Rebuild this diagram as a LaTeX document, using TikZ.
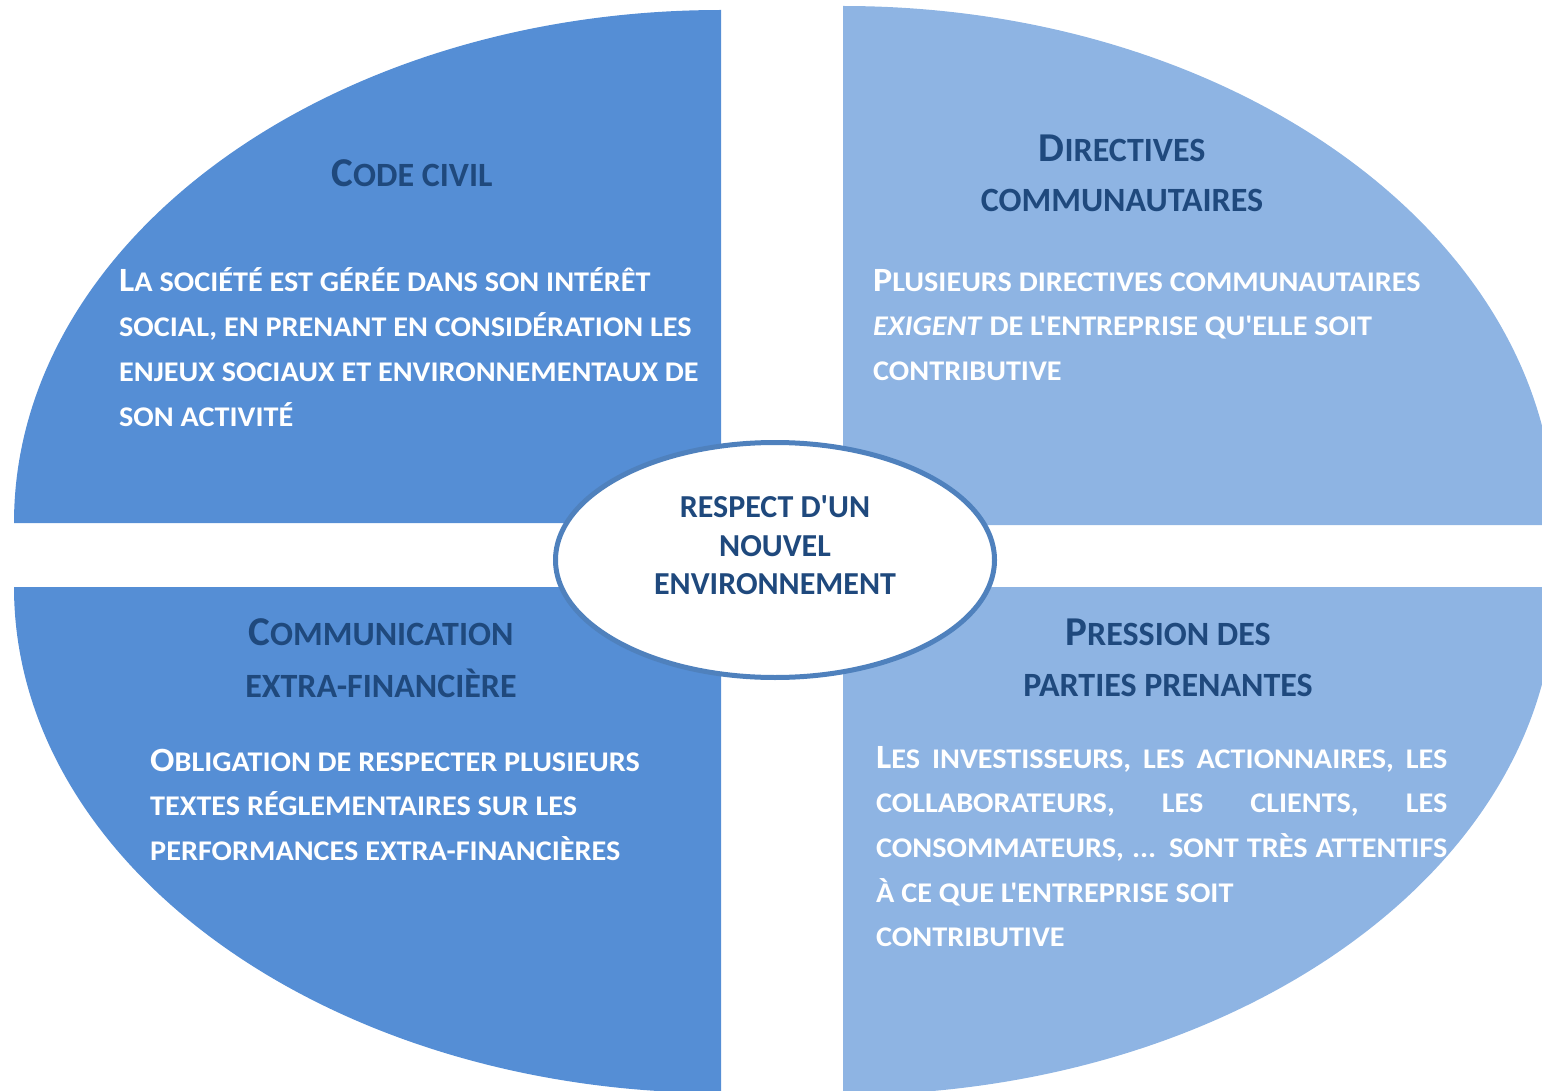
\documentclass[tikz,border=0pt]{standalone}
\usepackage{fontspec}
\setmainfont{Carlito}[Ligatures=TeXOff]
\newfontfamily\bodyfam{Carlito}[Ligatures=TeXOff, FakeStretch=1.06]
\usetikzlibrary{shapes.geometric}
\definecolor{cLeft}{HTML}{558ED5}
\definecolor{cRight}{HTML}{8EB4E3}
\definecolor{cTitle}{HTML}{1F497D}
\definecolor{cRing}{HTML}{4F81BD}
\newcommand\bodyfont{\bodyfam\fontsize{28.5}{34}\selectfont\bfseries}
\newcommand\titlefont{\fontsize{34}{40}\selectfont\bfseries}
\newcommand\centerfont{\fontsize{32}{38}\selectfont\bfseries}
\newcommand\Ini[1]{{\fontsize{34}{34}\selectfont #1}}
\newcommand\TIni[1]{{\fontsize{41}{41}\selectfont #1}}
\tikzset{
  quadL/.style={fill=cLeft},
  quadR/.style={fill=cRight},
  ttl/.style={text=cTitle, font=\titlefont, anchor=base, inner sep=0pt},
  bod/.style={text=white, font=\bodyfont, anchor=base west, inner sep=0pt},
  ctr/.style={text=cTitle, font=\centerfont, anchor=base, inner sep=0pt},
  hub/.style={ellipse, draw=cRing, line width=5pt, fill=white,
    minimum width=439pt, minimum height=235pt, inner sep=0pt}
}
\begin{document}
\begin{tikzpicture}[x=1pt,y=-1pt]
\useasboundingbox (0,0) rectangle (1542,1091);
\clip (0,0) rectangle (1542,1091);
% quadrants
\fill[quadL] (721,523) -- (14,523) arc[start angle=180,end angle=270,x radius=707,y radius=513] -- cycle;
\fill[quadR] (843,525) -- (843,6) arc[start angle=270,end angle=360,x radius=712,y radius=519] -- cycle;
\fill[quadL] (721,587) -- (14,587) arc[start angle=180,end angle=90,x radius=707,y radius=506] -- cycle;
\fill[quadR] (843,587) -- (1555,587) arc[start angle=0,end angle=90,x radius=712,y radius=508] -- cycle;
% center
\node[hub] (hub) at (775,560) {};
\node[ctr] (c1) at (775,517) {RESPECT D'UN};
\node[ctr] (c2) at (775,556) {NOUVEL};
\node[ctr] (c3) at (775,594) {ENVIRONNEMENT};
% top left
\node[ttl] (t1) at (412,187) {\TIni{C}ODE CIVIL};
\node[bod] (b11) at (119,291) {\Ini{L}A SOCIÉTÉ EST GÉRÉE DANS SON INTÉRÊT};
\node[bod] (b12) at (119,336) {SOCIAL, EN PRENANT EN CONSIDÉRATION LES};
\node[bod] (b13) at (119,381) {ENJEUX SOCIAUX ET ENVIRONNEMENTAUX DE};
\node[bod] (b14) at (119,426) {SON ACTIVITÉ};
% top right
\node[ttl] (t2a) at (1122,162) {\TIni{D}IRECTIVES};
\node[ttl] (t2b) at (1122,212) {COMMUNAUTAIRES};
\node[bod] (b21) at (873,291) {\Ini{P}LUSIEURS DIRECTIVES COMMUNAUTAIRES};
\node[bod] (b22) at (873,335) {\textit{EXIGENT} DE L'ENTREPRISE QU'ELLE SOIT};
\node[bod] (b23) at (873,380) {CONTRIBUTIVE};
% bottom left
\node[ttl] (t3a) at (381,645) {\TIni{C}OMMUNICATION};
\node[ttl] (t3b) at (381,697) {EXTRA-FINANCIÈRE};
\node[bod] (b31) at (150,771) {\Ini{O}BLIGATION DE RESPECTER PLUSIEURS};
\node[bod] (b32) at (150,815) {TEXTES RÉGLEMENTAIRES SUR LES};
\node[bod] (b33) at (150,860) {PERFORMANCES EXTRA-FINANCIÈRES};
% bottom right
\node[ttl] (t4a) at (1168,645) {\TIni{P}RESSION DES};
\node[ttl] (t4b) at (1168,696) {PARTIES PRENANTES};
\node[bod] (b41) at (876,768) {\makebox[571pt][s]{\Ini{L}ES INVESTISSEURS, LES ACTIONNAIRES, LES}};
\node[bod] (b42) at (876,812) {\makebox[571pt][s]{COLLABORATEURS, LES CLIENTS, LES}};
\node[bod] (b43) at (876,857) {\makebox[571pt][s]{CONSOMMATEURS, ... SONT TRÈS ATTENTIFS}};
\node[bod] (b44) at (876,902) {À CE QUE L'ENTREPRISE SOIT};
\node[bod] (b45) at (876,946) {CONTRIBUTIVE};
\end{tikzpicture}
\end{document}
